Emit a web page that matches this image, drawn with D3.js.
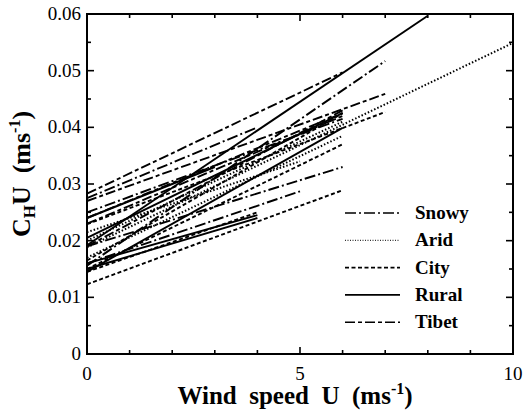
<!DOCTYPE html>
<html>
<head>
<meta charset="utf-8">
<script src="https://cdn.jsdelivr.net/npm/d3@7"></script>
<style>
  body { margin: 0; background: #fff; }
  text { font-family: "Liberation Serif", "Times New Roman", Times, serif; white-space: pre; }
</style>
</head>
<body>
<script>
// surface types and their line segments [u0, chu0, u1, chu1]
var types = ["Snowy", "Arid", "City", "Rural", "Tibet"];
var dashes = {Snowy: "11,3,2,3", Arid: "1.5,2", City: "4,2.5", Rural: null, Tibet: "10,3,4,3"};

var snowy = [[0, 0.0156, 7, 0.0517], [0, 0.0190, 6, 0.0330], [0, 0.0160, 5, 0.0287], [0, 0.0250, 6, 0.0415],
             [0, 0.0275, 4, 0.0400]];
var arid  = [[0, 0.0188, 10, 0.0549], [0, 0.0200, 6, 0.0410], [0, 0.0170, 6, 0.0385], [0, 0.0215, 5, 0.0340]];
var city  = [[0, 0.0123, 6, 0.0289], [0, 0.0229, 7, 0.0427], [0, 0.0150, 6, 0.0370], [0, 0.0165, 6, 0.0425], [0, 0.0145, 4, 0.0250]];
var rural = [[0, 0.0192, 8, 0.0597], [0, 0.0145, 6, 0.0399], [0, 0.0160, 4, 0.0245],
             [0, 0.0150, 4, 0.0240], [0, 0.0205, 6, 0.0425], [0, 0.0240, 3, 0.0330]];
var tibet = [[0, 0.0283, 6, 0.0497], [0, 0.0270, 7, 0.0459], [0, 0.0240, 6, 0.0425], [0, 0.0230, 6, 0.0420], [0, 0.0190, 6, 0.0430]];

var xTicks = [0, 5, 10];
var yTicks = [0, 0.01, 0.02, 0.03, 0.04, 0.05, 0.06];

var segs = {Snowy: snowy, Arid: arid, City: city, Rural: rural, Tibet: tibet};

var W = 524, H = 411;
var margin = {top: 14, right: 11, bottom: 57, left: 87};
var width = W - margin.left - margin.right;
var height = H - margin.top - margin.bottom;

var x = d3.scaleLinear().domain([0, 10]).range([0, width]);
var y = d3.scaleLinear().domain([0, 0.06]).range([height, 0]);

var svg = d3.select("body").append("svg")
    .attr("width", W).attr("height", H);
var g = svg.append("g")
    .attr("transform", "translate(" + margin.left + "," + margin.top + ")");

// data lines
types.forEach(function(t) {
  g.selectAll(null)
    .data(segs[t])
    .enter().append("line")
      .attr("x1", function(d) { return x(d[0]); })
      .attr("y1", function(d) { return y(d[1]); })
      .attr("x2", function(d) { return x(d[2]); })
      .attr("y2", function(d) { return y(d[3]); })
      .attr("stroke", "#000")
      .attr("stroke-width", t == "Arid" ? 2 : 1.9)
      .attr("stroke-dasharray", dashes[t]);
});

// frame
g.append("rect")
  .attr("width", width).attr("height", height)
  .attr("fill", "none").attr("stroke", "#000").attr("stroke-width", 2);

// ticks pointing inward on all four sides
var xMinor = d3.range(0, 10.01, 1);
var yMinor = d3.range(0, 0.0601, 0.005);
function isMajX(v) { return Math.abs(v % 5) < 1e-6; }
function isMajY(v) { return Math.abs(Math.round(v * 100) - v * 100) < 1e-6; }

var tk = g.append("g").attr("stroke", "#000").attr("stroke-width", 1.6);
xMinor.forEach(function(v) {
  var L = isMajX(v) ? 7 : 4;
  tk.append("line").attr("x1", x(v)).attr("x2", x(v)).attr("y1", height).attr("y2", height - L);
  tk.append("line").attr("x1", x(v)).attr("x2", x(v)).attr("y1", 0).attr("y2", L);
});
yMinor.forEach(function(v) {
  var L = isMajY(v) ? 7 : 4;
  tk.append("line").attr("y1", y(v)).attr("y2", y(v)).attr("x1", 0).attr("x2", L);
  tk.append("line").attr("y1", y(v)).attr("y2", y(v)).attr("x1", width).attr("x2", width - L);
});

// tick labels
g.selectAll(".xl").data(xTicks).enter().append("text")
  .attr("x", function(d) { return x(d); })
  .attr("y", height + 26)
  .attr("text-anchor", "middle")
  .attr("font-size", 19)
  .text(function(d) { return d; });

g.selectAll(".yl").data(yTicks).enter().append("text")
  .attr("x", -6)
  .attr("y", function(d) { return y(d) + 6; })
  .attr("text-anchor", "end")
  .attr("font-size", 19)
  .text(function(d) { return d == 0 ? "0" : d.toFixed(2); });

// axis titles
var xt = svg.append("text")
  .attr("x", 295).attr("y", 404)
  .attr("text-anchor", "middle")
  .attr("font-size", 25).attr("font-weight", "bold");
xt.append("tspan").text("Wind  speed  U  (ms");
xt.append("tspan").attr("font-size", 16).attr("dy", -10).text("-1");
xt.append("tspan").attr("dy", 10).text(")");

var yt = svg.append("text")
  .attr("transform", "translate(30,174) rotate(-90)")
  .attr("text-anchor", "middle")
  .attr("font-size", 26).attr("font-weight", "bold");
yt.append("tspan").text("C");
yt.append("tspan").attr("font-size", 17).attr("dy", 5).text("H");
yt.append("tspan").attr("dy", -5).text("U  (ms");
yt.append("tspan").attr("font-size", 16).attr("dy", -10).text("-1");
yt.append("tspan").attr("dy", 10).text(")");

// legend
var leg = svg.append("g").attr("transform", "translate(345,213)");
types.forEach(function(t, i) {
  var row = leg.append("g").attr("transform", "translate(0," + (i * 27.3) + ")");
  row.append("line")
    .attr("x1", 0).attr("x2", 55)
    .attr("stroke", "#000")
    .attr("stroke-width", t == "Arid" ? 1 : 1.6)
    .attr("stroke-dasharray", t == "Arid" ? "1,1.5" : dashes[t]);
  row.append("text")
    .attr("x", 70).attr("y", 6)
    .attr("font-size", 19).attr("font-weight", "bold")
    .text(t);
});
</script>
</body>
</html>
